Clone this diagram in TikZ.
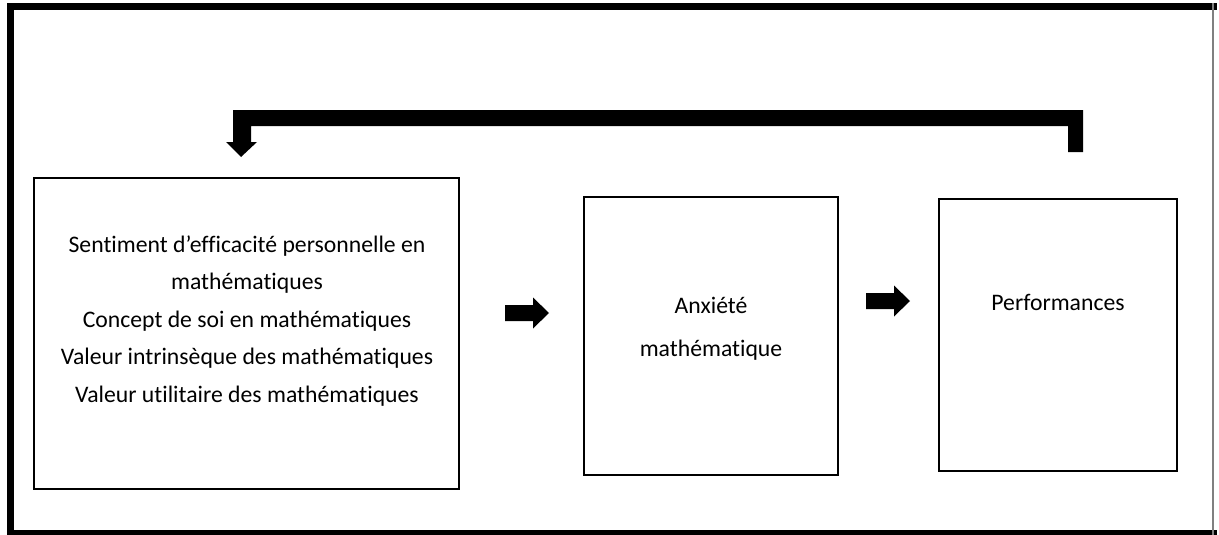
\documentclass[tikz,border=0pt]{standalone}
\usepackage{fontspec}
\setmainfont{Carlito}[Ligatures=NoCommon]
\begin{document}
\begin{tikzpicture}[x=1pt,y=-1pt,
  frameline/.style={line width=7pt,line cap=rect},
  box/.style={draw,line width=1.6pt,inner sep=0pt},
  lbl/.style={anchor=base,inner sep=0pt,font=\fontsize{23.7}{28}\selectfont},
  blockfill/.style={fill=black},
  harrow/.pic={\fill[blockfill] (0,-8) -- (28,-8) -- (28,-15.5) -- (44,0)
      -- (28,15.5) -- (28,8) -- (0,8) -- cycle;}]
\useasboundingbox (0,0) rectangle (1219,535);

% outer frame
\draw[frameline] (1213,6.5) -- (10,6.5) -- (10,533.5) -- (1213,533.5);
\draw[line width=1.2pt,gray] (1213,3) -- (1213,535);

% boxes
\node[box,minimum width=425pt,minimum height=311pt] (b1) at (246.5,333.5) {};
\node[box,minimum width=254pt,minimum height=278pt] (b2) at (711,336) {};
\node[box,minimum width=238pt,minimum height=272pt] (b3) at (1058,335) {};

% texts
\node[lbl] (t1) at (247,252) {Sentiment d’efficacité personnelle en};
\node[lbl] (t2) at (247,289.5) {mathématiques};
\node[lbl] (t3) at (247,327) {Concept de soi en mathématiques};
\node[lbl] (t4) at (247,364.5) {Valeur intrinsèque des mathématiques};
\node[lbl] (t5) at (247,402) {Valeur utilitaire des mathématiques};
\node[lbl] (a1) at (711,313.3) {Anxiété};
\node[lbl] (a2) at (711,356.7) {mathématique};
\node[lbl] (p1) at (1058,310) {Performances};

% forward block arrows
\pic at (505,313) {harrow};
\pic at (866,301) {harrow};

% feedback block arrow from performances back to the first box
\coordinate (fbR) at (1083,110);
\coordinate (fbL) at (233,110);
\fill[blockfill] (fbR) -- ++(0,42) -- ++(-15,0) -- (1068,126) -- (251,126)
  -- (251,142) -- (257,142) -- (241,157) -- (226,142) -- (233,142) -- (fbL) -- cycle;
\end{tikzpicture}
\end{document}
